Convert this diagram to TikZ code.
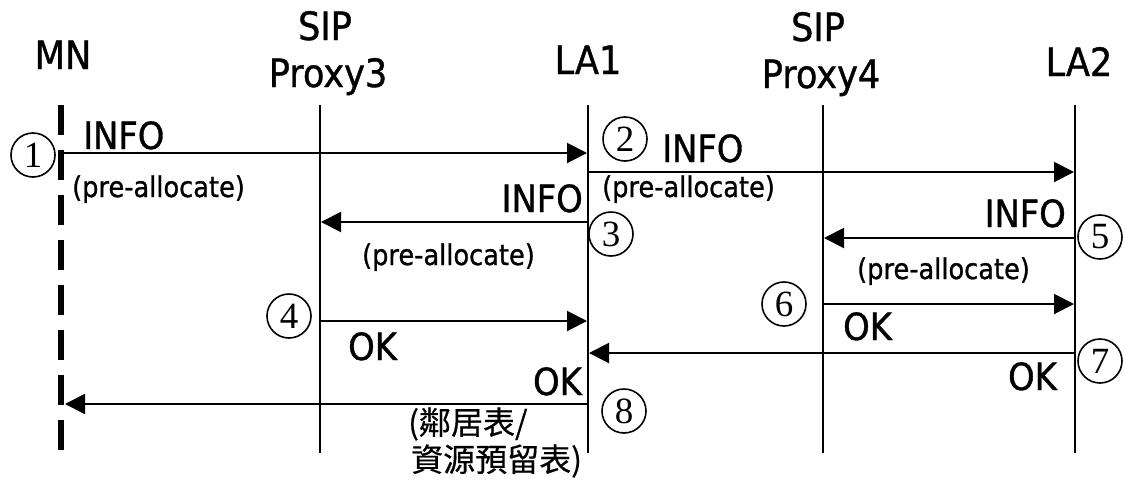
\documentclass[tikz,border=0pt]{standalone}
\usepackage{fontspec}
\setmainfont{DejaVu Sans}
\newfontfamily\dvs[FakeStretch=0.9,FakeBold=1]{DejaVu Sans}
\newfontfamily\cjkfont[FakeBold=0.5]{Noto Sans CJK TC}
\newfontfamily\numfont{Liberation Serif}
\usetikzlibrary{arrows.meta}
\begin{document}
\begin{tikzpicture}[x=1pt,y=-1pt,
  hdr/.style={font=\dvs\fontsize{39}{42}\selectfont, inner sep=0pt, anchor=base},
  lbl/.style={font=\dvs\fontsize{37.5}{40}\selectfont, inner sep=0pt},
  sub/.style={font=\dvs\fontsize{28.5}{30}\selectfont, inner sep=0pt},
  cjkst/.style={font=\cjkfont\fontsize{32}{34}\selectfont, inner sep=0pt},
  life/.style={line width=2pt},
  mnlife/.style={line width=5.5pt, dash pattern=on 30pt off 15pt},
  msg/.style={line width=2pt, -{Triangle[length=20pt,width=20pt]}},
  num/.style={circle, draw, line width=1.6pt, minimum size=44pt, inner sep=0pt, font=\numfont\fontsize{37}{37}\selectfont},
]
\useasboundingbox (0,0) rectangle (1125,483);

% headers
\node[hdr] (mn) at (63,69) {MN};
\node[hdr] (sip3) at (325,40) {SIP};
\node[hdr] (px3) at (328,87) {Proxy3};
\node[hdr] (la1) at (588,74) {LA1};
\node[hdr] (sip4) at (818,41) {SIP};
\node[hdr] (px4) at (821,88) {Proxy4};
\node[hdr] (la2) at (1079,76) {LA2};

% lifelines
\coordinate (mnT) at (61,105);   \coordinate (mnB) at (61,452);
\coordinate (p3T) at (320,105);  \coordinate (p3B) at (320,453);
\coordinate (l1T) at (588,105);  \coordinate (l1B) at (588,453);
\coordinate (p4T) at (823,105);  \coordinate (p4B) at (823,453);
\coordinate (l2T) at (1075,105); \coordinate (l2B) at (1075,453);
\draw[mnlife] (mnT) -- (mnB);
\draw[life] (p3T) -- (p3B);
\draw[life] (l1T) -- (l1B);
\draw[life] (p4T) -- (p4B);
\draw[life] (l2T) -- (l2B);

% message endpoints
\coordinate (m1s) at (64,153);   \coordinate (m1e) at (587,153);
\coordinate (m2s) at (588,172);  \coordinate (m2e) at (1074,172);
\coordinate (m3s) at (588,222);  \coordinate (m3e) at (321,222);
\coordinate (m5s) at (1075,238); \coordinate (m5e) at (824,238);
\coordinate (m6s) at (823,304);  \coordinate (m6e) at (1074,304);
\coordinate (m4s) at (320,321);  \coordinate (m4e) at (587,321);
\coordinate (m7s) at (1075,353); \coordinate (m7e) at (589,353);
\coordinate (m8s) at (588,404);  \coordinate (m8e) at (65,404);

\draw[msg] (m1s) -- (m1e);
\draw[msg] (m2s) -- (m2e);
\draw[msg] (m3s) -- (m3e);
\draw[msg] (m5s) -- (m5e);
\draw[msg] (m6s) -- (m6e);
\draw[msg] (m4s) -- (m4e);
\draw[msg] (m7s) -- (m7e);
\draw[msg] (m8s) -- (m8e);

% 1
\node[num] (c1) at (33,155) {1};
\node[lbl, anchor=base west] (t1) at (83,149) {INFO};
\node[sub, anchor=base west] (p1) at (72,197) {(pre-allocate)};
% 2
\node[num] (c2) at (625,139) {2};
\node[lbl, anchor=base west] (t2) at (662,162) {INFO};
\node[sub, anchor=base west] (p2) at (602,197) {(pre-allocate)};
% 3
\node[lbl, anchor=base east] (t3) at (583,212) {INFO};
\node[num] (c3) at (611,234) {3};
\node[sub, anchor=base east] (p3) at (535,265) {(pre-allocate)};
% 5
\node[lbl, anchor=base east] (t5) at (1066,227) {INFO};
\node[num] (c5) at (1100,237) {5};
\node[sub, anchor=base west] (p5) at (857,279) {(pre-allocate)};
% 4
\node[num] (c4) at (289,316) {4};
\node[lbl, anchor=base west] (t4) at (348,360) {OK};
% 6
\node[num] (c6) at (784,304) {6};
\node[lbl, anchor=base west] (t6) at (843,340) {OK};
% 7
\node[num] (c7) at (1100,361) {7};
\node[lbl, anchor=base east] (t7) at (1057,390) {OK};
% 8
\node[lbl, anchor=base east] (t8) at (582,395) {OK};
\node[num] (c8) at (624,411) {8};
\node[cjkst, anchor=west] (n1) at (408,424) {(鄰居表/};
\node[cjkst, anchor=west] (n2) at (411,461) {資源預留表)};
\end{tikzpicture}
\end{document}
